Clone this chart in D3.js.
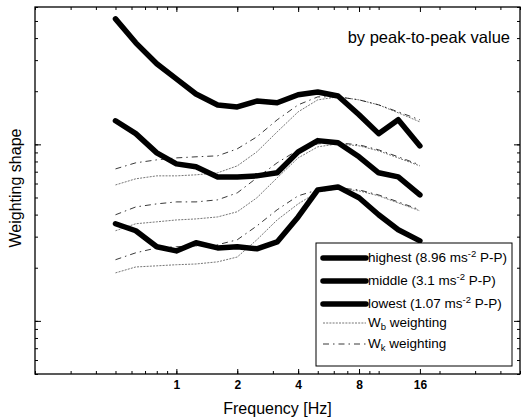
<!DOCTYPE html>
<html>
<head>
<meta charset="utf-8">
<script src="https://cdn.jsdelivr.net/npm/d3@7"></script>
<style>
body { margin: 0; background: #fff; }
text { font-family: "Liberation Sans", Arial, sans-serif; fill: #000; }
</style>
</head>
<body>
<svg></svg>
<script>
let width = 521;
let height = 417;
let plotLeft = 35, plotTop = 7, plotRight = 520, plotBottom = 374;

// third-octave centre frequencies (Hz)
let freqs = [0.5, 0.63, 0.8, 1, 1.25, 1.6, 2, 2.5, 3.15, 4, 5, 6.3, 8, 10, 12.5, 16];

let highest = [51.4, 37.6, 28.6, 23.5, 19.3, 16.7, 16.3, 17.6, 17.2, 19.1, 19.8, 18.8, 14.7, 11.5, 13.8, 9.8];
let middle  = [13.6, 11.5, 8.95, 7.75, 7.46, 6.54, 6.54, 6.63, 6.90, 9.07, 10.5, 10.2, 8.5, 6.90, 6.54, 5.17];
let lowest  = [3.55, 3.24, 2.63, 2.49, 2.77, 2.59, 2.63, 2.56, 2.80, 3.88, 5.52, 5.74, 4.98, 3.99, 3.28, 2.84];

let wkHigh = [7.26, 7.86, 8.17, 8.38, 8.50, 8.61, 9.43, 11.03, 13.77, 16.74, 18.58, 18.58, 17.87, 16.74, 15.28, 13.77];
let wbHigh = [5.89, 6.38, 6.63, 6.63, 6.72, 6.90, 7.55, 9.07, 11.77, 15.28, 17.87, 18.58, 17.87, 16.74, 15.09, 13.41];
let wkMid  = [3.99, 4.42, 4.60, 4.72, 4.72, 4.85, 5.31, 6.46, 7.86, 9.31, 10.07, 10.20, 9.94, 9.31, 8.50, 7.65];
let wbMid  = [3.24, 3.55, 3.64, 3.73, 3.78, 3.88, 4.15, 4.98, 6.46, 8.38, 9.68, 10.07, 9.81, 9.19, 8.38, 7.55];
let wkLow  = [2.22, 2.43, 2.59, 2.63, 2.66, 2.70, 2.88, 3.45, 4.26, 5.11, 5.52, 5.67, 5.52, 5.17, 4.72, 4.26];
let wbLow  = [1.87, 2.02, 2.05, 2.08, 2.10, 2.16, 2.30, 2.88, 3.73, 4.60, 5.38, 5.60, 5.45, 5.11, 4.66, 4.20];

let xLabels = [1, 2, 4, 8, 16];
let yMajor = [1, 10];

let legendItems = [
  { label: 'highest (8.96 ms', sup: '-2', tail: ' P-P)', kind: 'thick' },
  { label: 'middle (3.1 ms', sup: '-2', tail: ' P-P)', kind: 'thick' },
  { label: 'lowest (1.07 ms', sup: '-2', tail: ' P-P)', kind: 'thick' },
  { label: 'W', sub: 'b', tail: ' weighting', kind: 'wb' },
  { label: 'W', sub: 'k', tail: ' weighting', kind: 'wk' }
];

let xScale = d3.scaleLog()
                .domain([0.2, 50])
                .range([plotLeft, plotRight]);

let yScale = d3.scaleLog()
                .domain([0.5, 60])
                .range([plotBottom, plotTop]);

let svg = d3.select('svg')
              .attr('width', width)
              .attr('height', height);

let styles = {
  thick: { width: 5.5, dash: null, color: '#000' },
  wb: { width: 0.9, dash: '2,1.2', color: '#666' },
  wk: { width: 0.9, dash: '6,4,1.5,4', color: '#222' }
};

let line = d3.line()
              .x((d, i) => xScale(freqs[i]))
              .y(d => yScale(d));

// weighting curves
[[wbHigh, 'wb'], [wkHigh, 'wk'], [wbMid, 'wb'], [wkMid, 'wk'], [wbLow, 'wb'], [wkLow, 'wk']].forEach(([s, k]) => {
  svg.append('path')
    .datum(s)
    .attr('d', line)
    .attr('fill', 'none')
    .attr('stroke', styles[k].color)
    .attr('stroke-width', styles[k].width)
    .attr('stroke-dasharray', styles[k].dash);
});

// measured shapes
[highest, middle, lowest].forEach(s => {
  svg.append('path')
    .datum(s)
    .attr('d', line)
    .attr('fill', 'none')
    .attr('stroke', '#000')
    .attr('stroke-width', 5.5)
    .attr('stroke-linejoin', 'round')
    .attr('stroke-linecap', 'round');
});

// axes, ticks pointing inwards
let xMinor = xScale.ticks();
let yMinor = yScale.ticks();

svg.append('g')
    .attr('transform', `translate(0, ${plotBottom})`)
  .call(d3.axisBottom(xScale).tickValues(xMinor).tickSize(-3).tickFormat(''));

svg.append('g')
    .attr('transform', `translate(0, ${plotBottom})`)
    .classed('x-axis', true)
  .call(d3.axisBottom(xScale).tickValues(xLabels).tickSize(-5).tickPadding(6).tickFormat(d3.format('d')));

svg.append('g')
    .attr('transform', `translate(0, ${plotTop})`)
  .call(d3.axisTop(xScale).tickValues(xMinor).tickSize(-3).tickFormat(''));

svg.append('g')
    .attr('transform', `translate(0, ${plotTop})`)
  .call(d3.axisTop(xScale).tickValues(xLabels).tickSize(-5).tickFormat(''));

svg.append('g')
    .attr('transform', `translate(${plotLeft}, 0)`)
  .call(d3.axisLeft(yScale).tickValues(yMinor).tickSize(-3).tickFormat(''));

svg.append('g')
    .attr('transform', `translate(${plotLeft}, 0)`)
  .call(d3.axisLeft(yScale).tickValues(yMajor).tickSize(-6).tickFormat(''));

svg.append('g')
    .attr('transform', `translate(${plotRight}, 0)`)
  .call(d3.axisRight(yScale).tickValues(yMinor).tickSize(-3).tickFormat(''));

svg.append('g')
    .attr('transform', `translate(${plotRight}, 0)`)
  .call(d3.axisRight(yScale).tickValues(yMajor).tickSize(-6).tickFormat(''));

svg.selectAll('.domain').remove();
svg.selectAll('.tick line').attr('stroke', '#000').attr('stroke-width', 1);

svg.selectAll('.x-axis text')
    .style('font-family', '"Liberation Sans", Arial, sans-serif')
    .style('font-size', '12px')
    .style('font-weight', 'bold');

svg.append('rect')
    .attr('x', plotLeft)
    .attr('y', plotTop)
    .attr('width', plotRight - plotLeft)
    .attr('height', plotBottom - plotTop)
    .attr('fill', 'none')
    .attr('stroke', '#000')
    .attr('stroke-width', 1.3);

// titles
svg.append('text')
    .attr('x', 510)
    .attr('y', 43)
    .style('text-anchor', 'end')
    .style('font-size', '16.5px')
    .text('by peak-to-peak value');

svg.append('text')
    .attr('x', (plotLeft + plotRight) / 2)
    .attr('y', 414)
    .style('text-anchor', 'middle')
    .style('font-size', '16px')
    .text('Frequency [Hz]');

svg.append('text')
    .attr('transform', 'rotate(-90)')
    .attr('x', -188)
    .attr('y', 21)
    .style('text-anchor', 'middle')
    .style('font-size', '16px')
    .text('Weighting shape');

// legend
let legend = svg.append('g');

legend.append('rect')
    .attr('x', 316)
    .attr('y', 243)
    .attr('width', 196)
    .attr('height', 123)
    .attr('fill', '#fff')
    .attr('stroke', '#000')
    .attr('stroke-width', 1);

let rowY = [262, 285, 308, 327, 348];

legendItems.forEach((d, i) => {
  let st = styles[d.kind];
  legend.append('line')
      .attr('x1', 323)
      .attr('x2', 366)
      .attr('y1', rowY[i] - 4)
      .attr('y2', rowY[i] - 4)
      .attr('stroke', st.color)
      .attr('stroke-width', st.width)
      .attr('stroke-linecap', d.kind === 'thick' ? 'round' : 'butt')
      .attr('stroke-dasharray', st.dash);

  let t = legend.append('text')
      .attr('x', 368)
      .attr('y', rowY[i])
      .style('font-size', '13.5px');
  t.append('tspan').text(d.label);
  if (d.sup) {
    t.append('tspan').attr('dy', -5).style('font-size', '9.5px').text(d.sup);
    t.append('tspan').attr('dy', 5).text(d.tail);
  } else {
    t.append('tspan').attr('dy', 3).style('font-size', '9.5px').text(d.sub);
    t.append('tspan').attr('dy', -3).text(d.tail);
  }
});
</script>
</body>
</html>
